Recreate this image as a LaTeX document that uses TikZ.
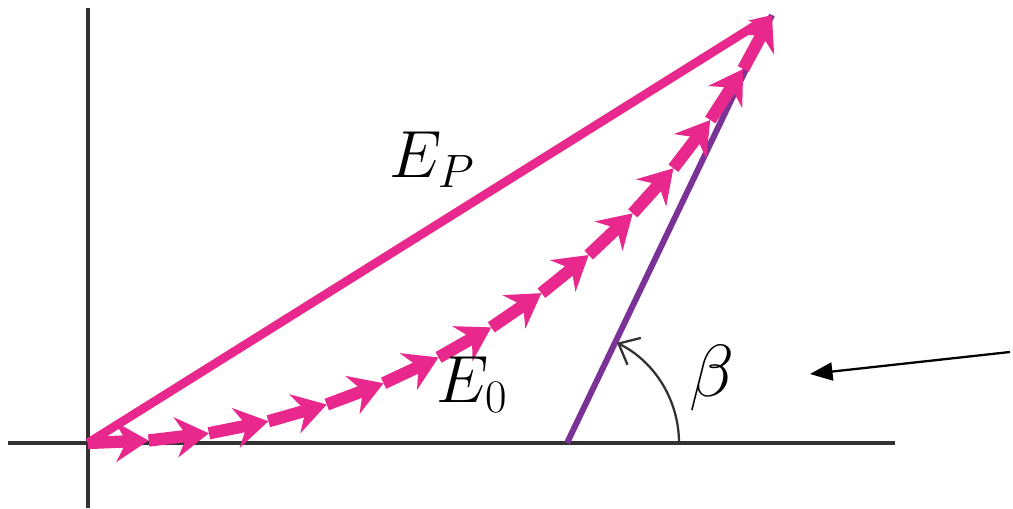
\RequirePackage{fix-cm}
\documentclass[tikz,border=0pt]{standalone}
\usepackage{amsmath}
\usepackage{xcolor}
\usetikzlibrary{arrows.meta,calc}
\definecolor{phasorpink}{RGB}{232,40,140}
\definecolor{tangentpurple}{RGB}{122,50,150}
\definecolor{axisgray}{RGB}{50,50,50}
\tikzset{
    axis/.style={draw=axisgray, line width=2pt},
    resultant/.style={draw=phasorpink, line width=5pt, -{Stealth[length=0.45cm,width=0.3cm,inset=0.1cm]}},
    phasor/.style={draw=phasorpink, line width=7pt, -{Stealth[length=0.66cm,width=0.8cm,inset=0.22cm]}},
    tangent/.style={draw=tangentpurple, line width=3.4pt},
    biglabel/.style={font=\fontsize{38}{44}\selectfont, inner sep=0pt}
}

\begin{document}
\begin{tikzpicture}[x=0.02cm, y=0.02cm]
            \useasboundingbox (0,0) rectangle (1013,509);

            \coordinate (o) at (88,66);
            \coordinate (apex) at (772,494);
            \coordinate (b) at (567,66);
            \coordinate (c) at (88,827);
            \coordinate (yb) at (88,1);
            \coordinate (yt) at (88,501);
            \coordinate (xl) at (8,66);
            \coordinate (xr) at (895,66);
            \coordinate (pt) at (1010,157);
            \coordinate (ph) at (810,135);

            \draw[axis] (yb) -- (yt);
            \draw[axis] (xl) -- (xr);

            \draw[tangent] (b) -- (apex);
            \draw[axisgray, line width=1.3pt, -{Straight Barb[length=0.35cm,width=0.6cm]}]
                (b) ++(112,0) arc (0:63.5:112);

            \draw[resultant] (o) -- (apex);

            \foreach \k in {0,...,14}
                \coordinate (p\k) at ($(c)+({-90+\k*64/14}:761)$);
            \foreach \k [evaluate=\k as \j using int(\k-1)] in {1,...,14}
                \draw[phasor] (p\j) -- (p\k);

            \node[biglabel] (ep) at (432,349) {$E_P$};
            \node[biglabel] (e0) at (472,124) {$E_0$};
            \node[biglabel, font=\fontsize{42}{48}\selectfont] (beta) at (712,131) {$\beta$};

            \draw[black, line width=1.3pt, -{Triangle[length=0.45cm,width=0.36cm]}] (pt) -- (ph);
        \end{tikzpicture}
\end{document}
